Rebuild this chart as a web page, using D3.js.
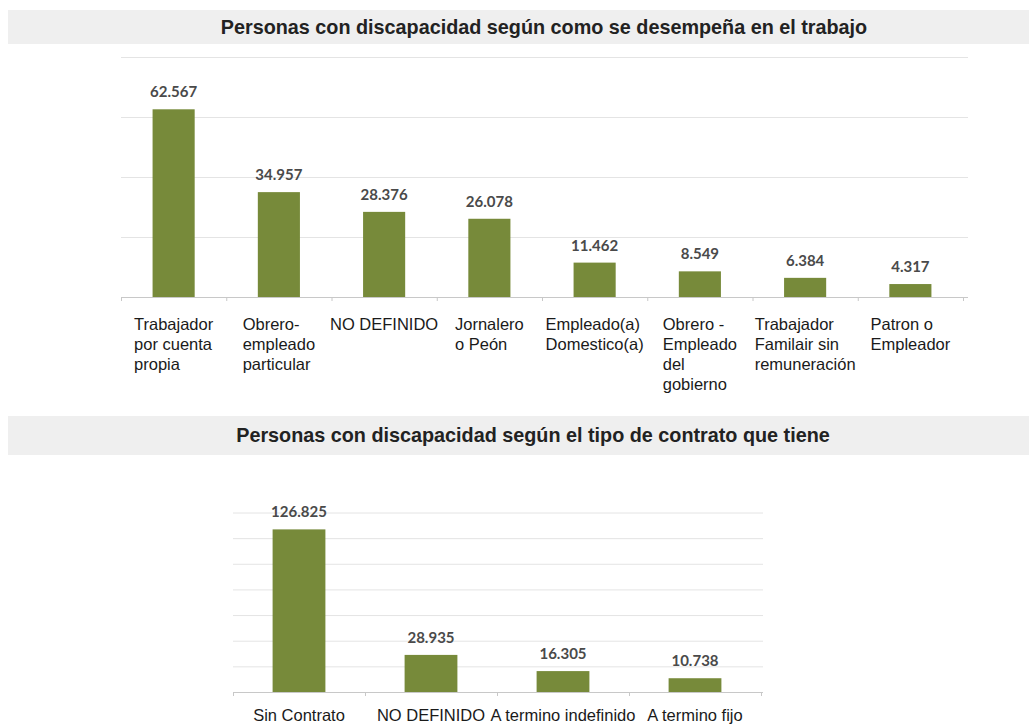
<!DOCTYPE html>
<html>
<head>
<meta charset="utf-8">
<script src="https://cdn.jsdelivr.net/npm/d3@7"></script>
<style>
  html, body { margin: 0; padding: 0; background: #fff; }
  .title { font-family: "Liberation Sans", Arial, sans-serif; font-weight: bold; fill: #222; }
  .cat { font-family: "Liberation Sans", Arial, sans-serif; font-size: 16.5px; fill: #1a1a1a; }
  .val { font-family: Lato, "Liberation Sans", sans-serif; font-weight: bold; font-size: 15px; fill: #4a4a4a; }
  .grid line { stroke: #e4e4e4; }
  .grid path { display: none; }
  .axis path, .axis line { stroke: #c8c8c8; }
</style>
</head>
<body>
<div id="chart"></div>
<script>
// chart 1 data
const jobTitle = "Personas con discapacidad según como se desempeña en el trabajo";
const jobCategories = [
  "Trabajador\npor cuenta\npropia",
  "Obrero-\nempleado\nparticular",
  "NO DEFINIDO",
  "Jornalero\no Peón",
  "Empleado(a)\nDomestico(a)",
  "Obrero -\nEmpleado\ndel\ngobierno",
  "Trabajador\nFamilair sin\nremuneración",
  "Patron o\nEmpleador"
];
const jobValues = [62567, 34957, 28376, 26078, 11462, 8549, 6384, 4317];
const jobTicks = [0, 20000, 40000, 60000, 80000];

// chart 2 data
const contractTitle = "Personas con discapacidad según el tipo de contrato que tiene";
const contractCategories = ["Sin Contrato", "NO DEFINIDO", "A termino indefinido", "A termino fijo"];
const contractValues = [126825, 28935, 16305, 10738];
const contractTicks = [0, 20000, 40000, 60000, 80000, 100000, 120000, 140000];

const width = 1029, height = 727;
const barColor = "#778a3a";
const fmt = d3.formatLocale({ decimal: ",", thousands: ".", grouping: [3], currency: ["$", ""] }).format(",d");

const svg = d3.select("#chart")
  .append("svg")
  .attr("width", width)
  .attr("height", height);

function drawTitle(text, y0, y1, cx, size) {
  svg.append("rect")
    .attr("x", 8)
    .attr("y", y0)
    .attr("width", width - 8)
    .attr("height", y1 - y0)
    .attr("fill", "#efefef");
  svg.append("text")
    .attr("class", "title")
    .attr("x", cx)
    .attr("y", (y0 + y1) / 2)
    .attr("dy", "0.35em")
    .attr("text-anchor", "middle")
    .style("font-size", size + "px")
    .text(text);
}

function drawBars(cfg) {
  let xScale = d3.scaleBand()
    .domain(cfg.categories)
    .range([cfg.left, cfg.right])
    .paddingInner(0.6)
    .paddingOuter(0.3);

  let yScale = d3.scaleLinear()
    .domain([0, d3.max(cfg.ticks)])
    .range([cfg.bottom, cfg.top]);

  let g = svg.append("g");

  // gridlines
  g.append("g")
    .attr("class", "grid")
    .attr("transform", "translate(" + cfg.left + ",0)")
    .call(
      d3.axisLeft(yScale)
        .tickValues(cfg.ticks.slice(1))
        .tickSize(-(cfg.gridRight - cfg.left))
        .tickFormat("")
    );

  // bars
  g.selectAll("rect.bar")
    .data(cfg.values)
    .enter()
    .append("rect")
    .attr("class", "bar")
    .attr("x", (d, i) => xScale(cfg.categories[i]))
    .attr("y", d => yScale(d))
    .attr("width", xScale.bandwidth())
    .attr("height", d => cfg.bottom - yScale(d))
    .attr("fill", barColor);

  // value labels
  g.selectAll("text.val")
    .data(cfg.values)
    .enter()
    .append("text")
    .attr("class", "val")
    .attr("x", (d, i) => xScale(cfg.categories[i]) + xScale.bandwidth() / 2)
    .attr("y", d => yScale(d) - 12)
    .attr("text-anchor", "middle")
    .text(d => fmt(d));

  // x axis: line with ticks at band boundaries
  let bounds = d3.scaleLinear()
    .domain([0, cfg.categories.length])
    .range([cfg.left, cfg.right]);
  let ax = g.append("g")
    .attr("class", "axis")
    .attr("transform", "translate(0," + cfg.bottom + ")")
    .call(
      d3.axisBottom(bounds)
        .tickValues(d3.range(cfg.categories.length + 1))
        .tickSize(4)
        .tickSizeOuter(4)
        .tickFormat("")
    );
  ax.select("path").attr("d", "M" + cfg.left + ",0.5H" + cfg.gridRight);

  // category labels, left aligned block centered under the band
  cfg.categories.forEach((c, i) => {
    let lines = c.split("\n");
    let t = g.append("text")
      .attr("class", "cat")
      .attr("y", cfg.labelY);
    lines.forEach((l, j) => {
      t.append("tspan")
        .attr("dy", j === 0 ? 0 : cfg.lineH)
        .text(l);
    });
    let cx = xScale(c) + xScale.bandwidth() / 2;
    if (lines.length > 1) {
      let maxW = d3.max(t.selectAll("tspan").nodes(), n => n.getComputedTextLength());
      t.selectAll("tspan").attr("x", cx - maxW / 2);
    } else {
      t.attr("text-anchor", "middle");
      t.selectAll("tspan").attr("x", cx);
    }
  });
}

drawTitle(jobTitle, 10, 44, 544, 19.8);
drawBars({
  categories: jobCategories,
  values: jobValues,
  ticks: jobTicks,
  left: 121,
  right: 963,
  gridRight: 968,
  top: 57,
  bottom: 297,
  labelY: 330,
  lineH: 20
});

drawTitle(contractTitle, 416, 455, 533, 19.8);
drawBars({
  categories: contractCategories,
  values: contractValues,
  ticks: contractTicks,
  left: 233,
  right: 761,
  gridRight: 763,
  top: 512.5,
  bottom: 692,
  labelY: 721,
  lineH: 20
});
</script>
</body>
</html>
